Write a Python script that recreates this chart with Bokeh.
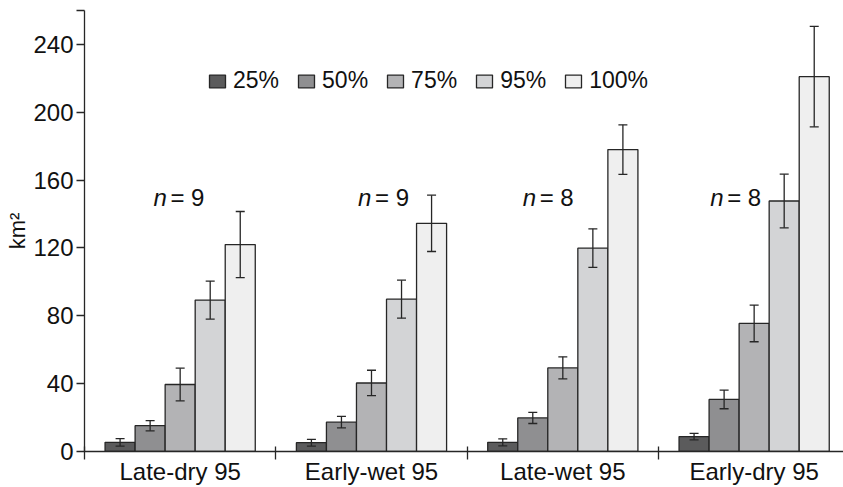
import numpy as np
from bokeh.plotting import figure
from bokeh.models import ColumnDataSource, Whisker, TeeHead, FixedTicker
from bokeh.core.properties import value
from bokeh.embed import file_html
from bokeh.resources import INLINE

# ---- data ----
categories = ["Late-dry 95", "Early-wet 95", "Late-wet 95", "Early-dry 95"]
levels = ["25%", "50%", "75%", "95%", "100%"]
mean_25 = [5.4, 5.2, 5.4, 8.8]
mean_50 = [15.2, 17.3, 19.8, 30.7]
mean_75 = [39.5, 40.4, 49.3, 75.5]
mean_95 = [89.3, 89.8, 119.9, 147.7]
mean_100 = [122.0, 134.5, 178.0, 221.0]
se_25 = [2.2, 2.0, 2.1, 1.9]
se_50 = [3.0, 3.4, 3.3, 5.5]
se_75 = [9.6, 7.5, 6.5, 10.8]
se_95 = [11.2, 11.2, 11.4, 15.8]
se_100 = [19.5, 16.6, 14.6, 29.6]
n_sizes = [9, 9, 8, 8]
y_ticks = [0, 40, 80, 120, 160, 200, 240, 260]

means = [mean_25, mean_50, mean_75, mean_95, mean_100]
ses = [se_25, se_50, se_75, se_95, se_100]
colors = ["#5b5b5c", "#8f8f91", "#b3b3b5", "#d3d4d6", "#efefef"]

FONT = "Liberation Sans"
INK = "#262626"

p = figure(width=843, height=487, x_range=(0, 3.967), y_range=(0, 260),
           output_backend="svg", toolbar_location=None,
           min_border_left=84, min_border_right=0, min_border_top=10,
           min_border_bottom=33)
p.xgrid.visible = False
p.ygrid.visible = False
p.outline_line_color = None
p.background_fill_color = "white"

bw = 0.157
gx = np.arange(len(categories)) + 0.5
for j, (lvl, m, s, c) in enumerate(zip(levels, means, ses, colors)):
    xs = gx + (j - 2) * bw
    m = np.array(m)
    s = np.array(s)
    src = ColumnDataSource(dict(x=xs, top=m, upper=m + s, lower=m - s))
    p.vbar(x="x", top="top", width=bw, source=src, fill_color=c,
           line_color=INK, line_width=1.3, legend_label=lvl)
    w = Whisker(base="x", upper="upper", lower="lower", source=src,
                line_color=INK, line_width=1.3, level="annotation",
                upper_head=TeeHead(size=9, line_color=INK, line_width=1.3),
                lower_head=TeeHead(size=9, line_color=INK, line_width=1.3))
    p.add_layout(w)

# n labels (annotation layout)
n_x = [0.36, 1.43, 2.29, 3.27]
n_y = [150, 150, 150, 150]
nsrc = ColumnDataSource(dict(x=n_x, y=n_y, n=["n"] * 4,
                             rest=["= %d" % k for k in n_sizes]))
p.text(x="x", y="y", text="n", source=nsrc, text_font=value(FONT),
       text_font_size="24px", text_font_style="italic", text_color="#111111",
       text_align="left", text_baseline="middle")
p.text(x="x", y="y", text="rest", source=nsrc, text_font=value(FONT),
       text_font_size="24px", text_color="#111111", x_offset=17,
       text_align="left", text_baseline="middle")

# axes
for ax in (p.xaxis[0], p.yaxis[0]):
    ax.axis_line_color = INK
    ax.axis_line_width = 1.3
    ax.major_tick_line_color = INK
    ax.major_tick_line_width = 1.3
    ax.minor_tick_line_color = INK
    ax.minor_tick_line_width = 1.3
    ax.major_label_text_font = FONT
    ax.major_label_text_font_size = "24px"
    ax.major_label_text_color = "#111111"

xa = p.xaxis[0]
xa.ticker = FixedTicker(ticks=list(gx), minor_ticks=[0, 1, 2, 3, 4])
xa.major_label_overrides = {float(v): c for v, c in zip(gx, categories)}
xa.major_tick_in = 0
xa.major_tick_out = 0
xa.major_tick_line_color = None
xa.minor_tick_in = 5
xa.minor_tick_out = 8
xa.major_label_standoff = -2

ya = p.yaxis[0]
ya.ticker = FixedTicker(ticks=y_ticks, minor_ticks=[])
ya.major_label_overrides = {260: ""}
ya.major_tick_in = 0
ya.major_tick_out = 8
ya.major_label_standoff = 3
ya.axis_label = "km²"
ya.axis_label_text_font = FONT
ya.axis_label_text_font_size = "22px"
ya.axis_label_text_font_style = "normal"
ya.axis_label_text_color = "#111111"
ya.axis_label_standoff = 0

lg = p.legend[0]
lg.orientation = "horizontal"
lg.location = (123, 357)
lg.glyph_width = 20
lg.glyph_height = 16
lg.label_standoff = 6
lg.spacing = 17
lg.padding = 0
lg.margin = 0
lg.border_line_color = None
lg.background_fill_alpha = 0
lg.label_text_font = FONT
lg.label_text_font_size = "23px"
lg.label_text_color = "#111111"

open("out.html", "w").write(file_html(p, INLINE))
